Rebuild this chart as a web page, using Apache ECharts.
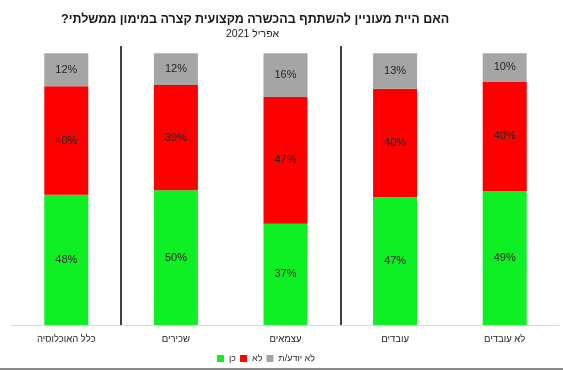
<!DOCTYPE html>
<html>
<head>
<meta charset="utf-8">
<script src="https://cdn.jsdelivr.net/npm/echarts@6/dist/echarts.min.js"></script>
<style>
html,body{margin:0;padding:0;background:#fff;}
#c{width:563px;height:371px;direction:rtl;}
</style>
</head>
<body>
<div id="c"></div>
<script>
var titleText = 'האם היית מעוניין להשתתף בהכשרה מקצועית קצרה במימון ממשלתי?';
var subtitleText = 'אפריל 2021';
var categories = ['כלל האוכלוסיה', 'שכירים', 'עצמאים', 'עובדים', 'לא עובדים'];
var seriesNames = ['כן', 'לא', 'לא יודע/ת'];
var yesValues = [47.9, 49.6, 37.3, 47.0, 49.2];
var noValues = [40.0, 38.7, 46.6, 40.0, 40.4];
var dkValues = [12.1, 11.7, 16.1, 13.0, 10.4];
var separatorPositions = [1, 3];

var colors = ['#0ef024', '#ff0000', '#a5a5a5'];
var font = '"Liberation Sans", Arial, sans-serif';
var yMax = 102.7;

var chart = echarts.init(document.getElementById('c'), null, {renderer: 'canvas'});

function mk(name, data, color) {
  return {
    name: name,
    type: 'bar',
    stack: 'total',
    data: data,
    barWidth: 44,
    itemStyle: {color: color},
    label: {
      show: true,
      position: 'inside',
      color: '#262626',
      fontFamily: font,
      fontSize: 11,
      formatter: function (p) { return Math.round(p.value) + '%'; }
    },
    emphasis: {disabled: true}
  };
}

var sepLines = separatorPositions.map(function (x) {
  return [{coord: [x, 0]}, {coord: [x, yMax]}];
});

chart.setOption({
  animation: false,
  backgroundColor: '#fff',
  title: [{
    text: titleText,
    left: 61,
    top: 13,
    padding: 0,
    textStyle: {fontFamily: font, fontSize: 12.5, fontWeight: 'bold', color: '#1a1a1a'}
  }, {
    text: subtitleText,
    left: 226,
    top: 29,
    padding: 0,
    textStyle: {fontFamily: font, fontSize: 10.5, fontWeight: 'normal', color: '#1a1a1a'}
  }],
  legend: {
    data: seriesNames,
    left: 212,
    top: 349,
    itemWidth: 7,
    itemHeight: 7,
    itemGap: 4,
    icon: 'rect',
    textStyle: {fontFamily: font, fontSize: 9, color: '#262626'}
  },
  grid: {left: 11.5, right: 3.5, top: 46, bottom: 46, containLabel: false},
  xAxis: [{
    type: 'category',
    data: categories,
    axisLine: {show: true, lineStyle: {color: '#d9d9d9', width: 1}},
    axisTick: {show: false},
    axisLabel: {fontFamily: font, fontSize: 9.5, color: '#262626', margin: 9, interval: 0},
    splitLine: {show: false}
  }, {
    type: 'value',
    min: 0,
    max: categories.length,
    show: false,
    splitLine: {show: false}
  }],
  yAxis: {
    type: 'value',
    min: 0,
    max: yMax,
    show: false,
    splitLine: {show: false}
  },
  graphic: [{
    type: 'rect',
    shape: {x: 0, y: 368, width: 563, height: 2},
    style: {fill: '#8c8c8c'},
    silent: true
  }],
  series: [
    mk(seriesNames[0], yesValues, colors[0]),
    mk(seriesNames[1], noValues, colors[1]),
    mk(seriesNames[2], dkValues, colors[2]),
    {
      type: 'line',
      xAxisIndex: 1,
      data: [],
      silent: true,
      markLine: {
        silent: true,
        symbol: 'none',
        label: {show: false},
        lineStyle: {color: '#000', width: 1.5, type: 'solid'},
        emphasis: {disabled: true},
        data: sepLines
      }
    }
  ]
});
</script>
</body>
</html>
